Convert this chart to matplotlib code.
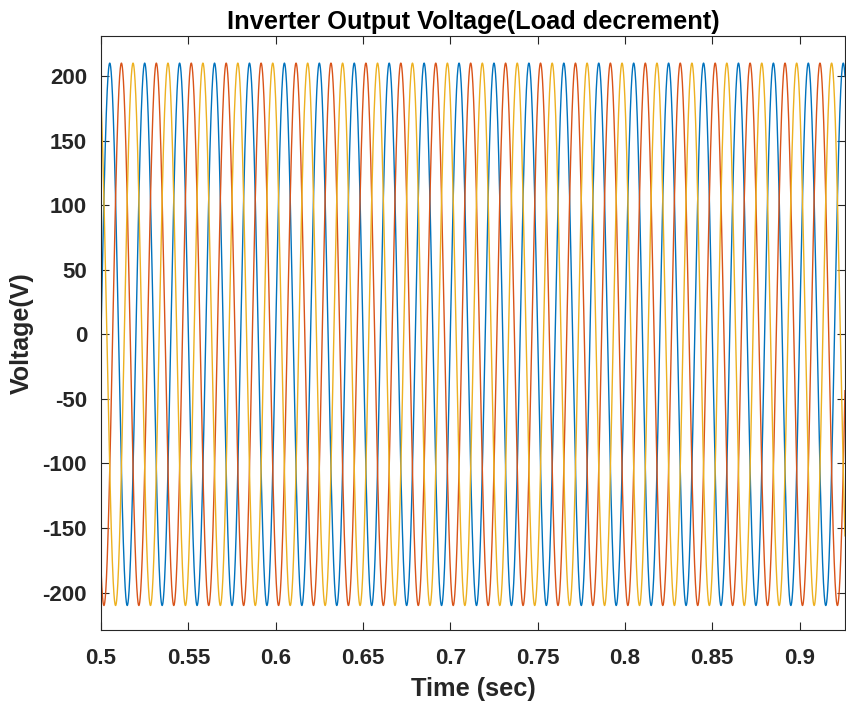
import numpy as np
import matplotlib
matplotlib.use("Agg")
import matplotlib.pyplot as plt

plt.rcParams['font.family'] = ['Liberation Sans', 'DejaVu Sans']
plt.rcParams['font.weight'] = 'bold'
plt.rcParams['axes.unicode_minus'] = False

# Three-phase inverter output: 50 Hz, ~210 V peak
phase_names = ["Va", "Vb", "Vc"]
amplitudes = [210, 210, 210]          # V
frequency_hz = 50
phase_shifts_deg = [0, -120, 120]
colors = ["#0072BD", "#D95319", "#EDB120"]

t_start, t_end = 0.5, 0.926
x_ticks = [0.5, 0.55, 0.6, 0.65, 0.7, 0.75, 0.8, 0.85, 0.9]
x_tick_labels = ["0.5", "0.55", "0.6", "0.65", "0.7", "0.75", "0.8", "0.85", "0.9"]
y_ticks = [-200, -150, -100, -50, 0, 50, 100, 150, 200]
y_tick_labels = ["-200", "-150", "-100", "-50", "0", "50", "100", "150", "200"]

fig = plt.figure(figsize=(8.46, 7.06), dpi=100)
ax = fig.add_axes([0.1194, 0.1076, 0.8794, 0.8414])

t = np.linspace(t_start, t_end, 20000)
for name, amp, ph, c in zip(phase_names, amplitudes, phase_shifts_deg, colors):
    ax.plot(t, amp * np.sin(2 * np.pi * frequency_hz * t + np.deg2rad(ph)),
            color=c, lw=1.0, label=name)

ax.set_xlim(t_start, t_end)
ax.set_ylim(-229, 231)
ax.set_xticks(x_ticks)
ax.set_xticklabels(x_tick_labels)
ax.set_yticks(y_ticks)
ax.set_yticklabels(y_tick_labels)

edge = "#262626"
for s in ax.spines.values():
    s.set_color(edge)
    s.set_linewidth(0.8)
ax.tick_params(direction='in', length=6, width=0.8, color=edge,
               labelcolor=edge, labelsize=16, top=True, right=True)
ax.tick_params(axis='x', pad=13)
ax.tick_params(axis='y', pad=10)
for lbl in ax.get_xticklabels() + ax.get_yticklabels():
    lbl.set_fontweight('bold')

ax.set_title("Inverter Output Voltage(Load decrement)", fontsize=18.3,
             fontweight='bold', color='black', pad=5)
ax.set_xlabel("Time (sec)", fontsize=18.3, fontweight='bold', color=edge, labelpad=6)
ax.set_ylabel("Voltage(V)", fontsize=18, fontweight='bold', color=edge, labelpad=6)

fig.savefig("out.png", dpi=100)
